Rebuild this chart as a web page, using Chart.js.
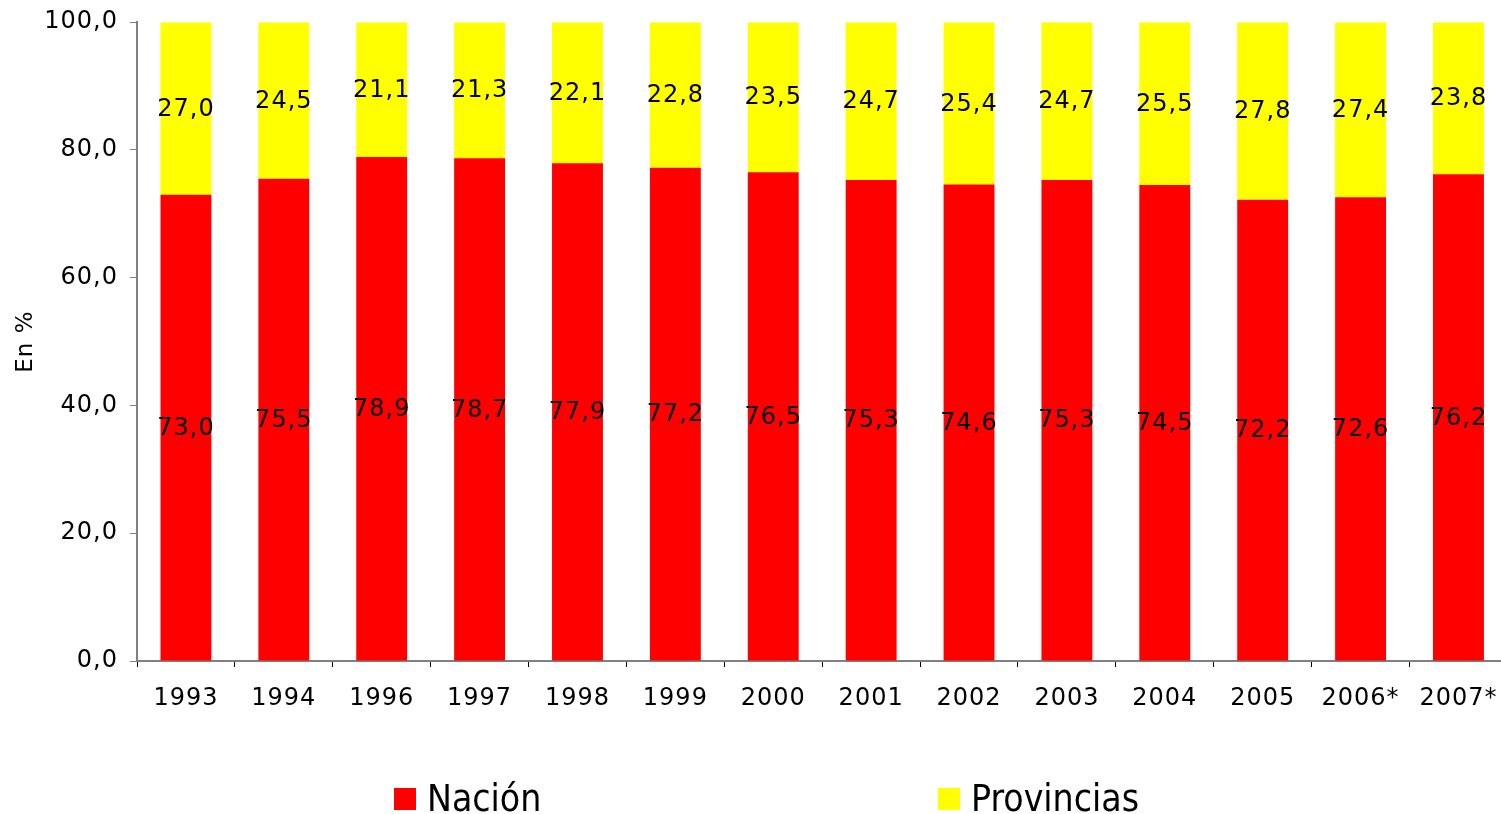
<!DOCTYPE html>
<html>
<head>
<meta charset="utf-8">
<script src="https://cdn.jsdelivr.net/npm/chart.js@4/dist/chart.umd.min.js"></script>
<style>
  html, body { margin: 0; padding: 0; background: #fff; }
  #wrap { width: 1501px; height: 814px; overflow: hidden; }
</style>
</head>
<body>
<div id="wrap"><canvas id="chart" width="1512" height="814"></canvas></div>
<script>
const years = ['1993', '1994', '1996', '1997', '1998', '1999', '2000', '2001', '2002', '2003', '2004', '2005', '2006*', '2007*'];
const nacion = [73.0, 75.5, 78.9, 78.7, 77.9, 77.2, 76.5, 75.3, 74.6, 75.3, 74.5, 72.2, 72.6, 76.2];
const provincias = [27.0, 24.5, 21.1, 21.3, 22.1, 22.8, 23.5, 24.7, 25.4, 24.7, 25.5, 27.8, 27.4, 23.8];
const yTicks = [0, 20, 40, 60, 80, 100];

const font = "'DejaVu Sans', Verdana, sans-serif";
const fmt = v => v.toFixed(1).replace('.', ',');

// a little extra letter spacing, like the Verdana text of the original
const spacing = {
    id: 'spacing',
    beforeDraw(chart) { chart.ctx.letterSpacing = '1px'; }
};

// value labels in the middle of each segment
const barLabels = {
    id: 'barLabels',
    afterDatasetsDraw(chart) {
        const ctx = chart.ctx;
        ctx.save();
        ctx.font = '24px ' + font;
        ctx.fillStyle = '#000';
        ctx.textAlign = 'center';
        ctx.textBaseline = 'middle';
        chart.data.datasets.forEach((ds, i) => {
            chart.getDatasetMeta(i).data.forEach((bar, j) => {
                const y = (bar.y + bar.base) / 2 + 1;
                ctx.fillText(fmt(ds.data[j]), bar.x, y);
            });
        });
        ctx.restore();
    }
};

// legend drawn by hand so the two items can sit far apart
const bottomLegend = {
    id: 'bottomLegend',
    afterDraw(chart) {
        const ctx = chart.ctx;
        const xs = [394, 938];
        ctx.save();
        ctx.letterSpacing = '0px';
        ctx.font = '37px ' + "'DejaVu Sans Condensed', 'Liberation Sans Narrow', sans-serif";
        ctx.textBaseline = 'alphabetic';
        chart.data.datasets.forEach((ds, i) => {
            ctx.fillStyle = ds.backgroundColor;
            ctx.fillRect(xs[i], 788, 22, 22);
            ctx.fillStyle = '#000';
            ctx.fillText(ds.label, xs[i] + 33, 811);
        });
        ctx.restore();
    }
};

const ctx = document.getElementById('chart').getContext('2d');
new Chart(ctx, {
    type: 'bar',
    data: {
        labels: years,
        datasets: [
            { label: 'Nación', data: nacion, backgroundColor: '#ff0000' },
            { label: 'Provincias', data: provincias, backgroundColor: '#ffff00' }
        ]
    },
    options: {
        responsive: false,
        animation: false,
        layout: { padding: { top: 10, right: 0, bottom: 93, left: 0 } },
        datasets: { bar: { categoryPercentage: 1, barPercentage: 0.52 } },
        plugins: {
            legend: { display: false },
            tooltip: { enabled: false }
        },
        scales: {
            x: {
                stacked: true,
                offset: true,
                grid: {
                    offset: true,
                    drawOnChartArea: false,
                    drawTicks: true,
                    tickLength: 6,
                    color: '#000'
                },
                border: { color: '#808080', width: 2 },
                ticks: { color: '#000', font: { family: font, size: 24 }, padding: 17, maxRotation: 0, autoSkip: false },
                afterFit(scale) { scale.height = 60; }
            },
            y: {
                stacked: true,
                min: 0,
                max: 100,
                afterBuildTicks(scale) { scale.ticks = yTicks.map(v => ({ value: v })); },
                grid: { drawOnChartArea: false, drawTicks: true, tickLength: 7, color: '#808080' },
                border: { color: '#808080', width: 2 },
                ticks: { color: '#000', font: { family: font, size: 24, lineHeight: 0.85 }, padding: 12, callback: v => fmt(v) },
                title: { display: true, text: 'En %', color: '#000', font: { family: font, size: 23 }, padding: { top: 12, bottom: 0 } },
                afterFit(scale) { scale.width = 137; }
            }
        }
    },
    plugins: [spacing, barLabels, bottomLegend]
});
</script>
</body>
</html>
